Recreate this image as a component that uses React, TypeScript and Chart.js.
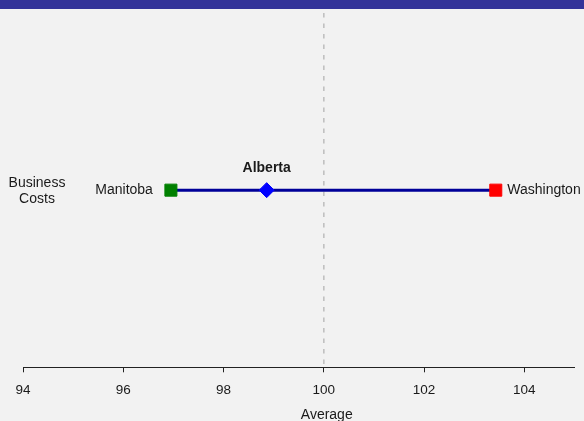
import React, { useEffect, useRef } from 'react';
import { Chart, registerables } from 'chart.js';

Chart.register(...registerables);

const categories = ['Business Costs'];
const pointNames = ['Manitoba', 'Alberta', 'Washington'];
const pointValues = [96.95, 98.86, 103.43];
const pointColors = ['#008000', '#0000ff', '#ff0000'];
const pointShapes = ['rect', 'rectRot', 'rect'];
const highlighted = 'Alberta';
const xTicks = [94, 96, 98, 100, 102, 104];
const xMin = 94;
const xMax = 105;
const referenceValue = 100;
const axisTitle = 'Average';

const FONT = "'Liberation Sans', Arial, Helvetica, sans-serif";
const TEXT = '#1a1a1a';

const decor = {
  id: 'decor',
  beforeDraw(chart: any) {
    const { ctx, width } = chart;
    ctx.save();
    ctx.fillStyle = '#f2f2f2';
    ctx.fillRect(0, 0, width, chart.height);
    ctx.fillStyle = '#333399';
    ctx.fillRect(0, 0, width, 9);
    ctx.restore();
  },
  beforeDatasetsDraw(chart: any) {
    const { ctx, chartArea } = chart;
    const x = chart.scales.x.getPixelForValue(referenceValue);
    ctx.save();
    ctx.strokeStyle = '#bdbdbd';
    ctx.lineWidth = 1.5;
    ctx.setLineDash([4.5, 6]);
    ctx.beginPath();
    ctx.moveTo(x, chartArea.top);
    ctx.lineTo(x, chartArea.bottom);
    ctx.stroke();
    ctx.restore();
  },
  afterDatasetsDraw(chart: any) {
    const { ctx, chartArea } = chart;
    const xs = chart.scales.x;
    const ys = chart.scales.y;
    const py = ys.getPixelForValue(0);
    ctx.save();
    ctx.fillStyle = TEXT;
    ctx.textBaseline = 'alphabetic';
    pointNames.forEach((name, i) => {
      const px = xs.getPixelForValue(pointValues[i]);
      if (name === highlighted) {
        ctx.font = `bold 14px ${FONT}`;
        ctx.textAlign = 'center';
        ctx.fillText(name, px, py - 18.5);
      } else if (i === 0) {
        ctx.font = `14px ${FONT}`;
        ctx.textAlign = 'right';
        ctx.fillText(name, px - 18, py + 3.5);
      } else {
        ctx.font = `14px ${FONT}`;
        ctx.textAlign = 'left';
        ctx.fillText(name, px + 11.5, py + 3.5);
      }
    });
    // category label
    ctx.font = `14px ${FONT}`;
    ctx.textAlign = 'center';
    const lines = categories[0].split(' ');
    lines.forEach((ln, k) => {
      ctx.fillText(ln, 37, py - 3.3 + k * 16.6);
    });
    // axis title
    ctx.textAlign = 'center';
    ctx.fillText(axisTitle, (chartArea.left + chartArea.right) / 2 + 28, 419.3);
    ctx.restore();
  },
};

export default function App() {
  const ref = useRef<HTMLCanvasElement>(null);
  useEffect(() => {
    document.body.style.margin = '0';
    const lo = Math.min(...pointValues);
    const hi = Math.max(...pointValues);
    const chart = new Chart(ref.current as HTMLCanvasElement, {
      type: 'scatter',
      data: {
        datasets: [
          {
            type: 'scatter',
            data: pointValues.map((v) => ({ x: v, y: 0 })),
            pointStyle: pointShapes as any,
            backgroundColor: pointColors,
            borderColor: pointColors,
            borderWidth: 1,
            pointRadius: pointShapes.map((s) => (s === 'rect' ? 8.5 : 7.5)),
          },
          {
            type: 'line',
            data: [
              { x: lo, y: 0 },
              { x: hi, y: 0 },
            ],
            borderColor: '#000099',
            borderWidth: 3,
            pointRadius: 0,
            fill: false,
          } as any,
        ],
      },
      options: {
        responsive: false,
        animation: false,
        layout: { padding: { left: 23, right: 8, top: 13, bottom: 13.5 } },
        plugins: { legend: { display: false }, tooltip: { enabled: false } },
        scales: {
          x: {
            type: 'linear',
            min: xMin,
            max: xMax,
            afterBuildTicks: (s: any) => {
              s.ticks = xTicks.map((v) => ({ value: v }));
            },
            border: { display: true, color: '#222', width: 1 },
            grid: { drawOnChartArea: false, drawTicks: true, tickLength: 5, color: '#222' },
            ticks: {
              font: { family: FONT, size: 13.5 },
              color: TEXT,
              padding: 9.5,
              maxRotation: 0,
              autoSkip: false,
            },
          },
          y: { type: 'linear', min: -1, max: 1, display: false },
        },
      },
      plugins: [decor],
    });
    return () => chart.destroy();
  }, []);
  return <canvas ref={ref} width={584} height={421} style={{ display: 'block' }} />;
}
